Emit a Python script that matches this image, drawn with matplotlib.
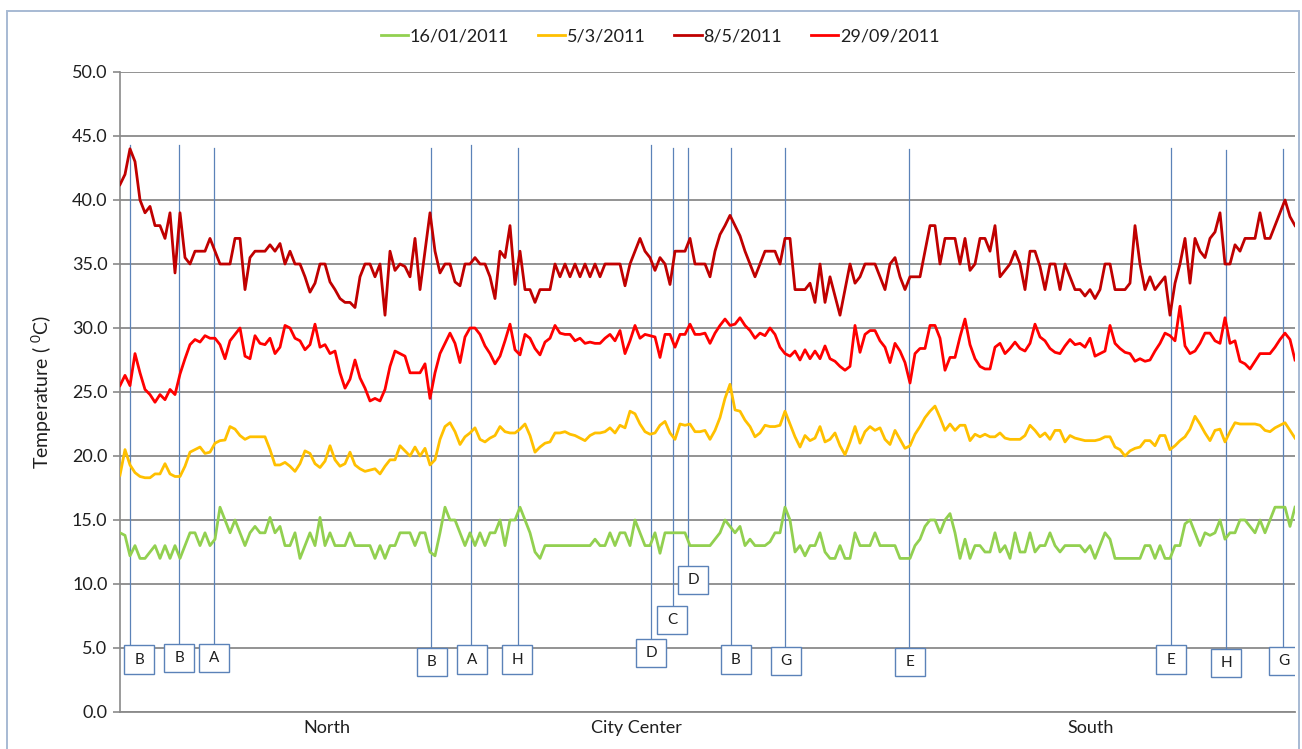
import matplotlib
matplotlib.use("Agg")
import matplotlib.pyplot as plt
from matplotlib.patches import Rectangle
import numpy as np

plt.rcParams['font.family'] = ['Lato', 'DejaVu Sans']

# air temperature along the traverse, one reading per step
temp_jan = [
    14, 13.8, 12.2, 13, 12, 12, 12.5, 13, 12, 13,
    12, 13, 12, 13, 14, 14, 13, 14, 13, 13.5,
    16, 15, 14, 15, 14, 13, 14, 14.5, 14, 14,
    15.2, 14, 14.5, 13, 13, 14, 12, 13, 14, 13,
    15.2, 13, 14, 13, 13, 13, 14, 13, 13, 13,
    13, 12, 13, 12, 13, 13, 14, 14, 14, 13,
    14, 14, 12.5, 12.2, 14, 16, 15, 15, 14, 13,
    14, 13, 14, 13, 14, 14, 15, 13, 15, 15,
    16, 15, 14, 12.5, 12, 13, 13, 13, 13, 13,
    13, 13, 13, 13, 13, 13.5, 13, 13, 14, 13,
    14, 14, 13, 15, 14, 13, 13, 14, 12.4, 14,
    14, 14, 14, 14, 13, 13, 13, 13, 13, 13.5,
    14, 15, 14.5, 14, 14.5, 13, 13.5, 13, 13, 13,
    13.3, 14, 14, 16, 15, 12.5, 13, 12.2, 13, 13,
    14, 12.5, 12, 12, 13, 12, 12, 14, 13, 13,
    13, 14, 13, 13, 13, 13, 12, 12, 12, 13,
    13.5, 14.5, 15, 15, 14, 15, 15.5, 14, 12, 13.5,
    12, 13, 13, 12.5, 12.5, 14, 12.5, 13, 12, 14,
    12.5, 12.5, 14, 12.5, 13, 13, 14, 13, 12.5, 13,
    13, 13, 13, 12.5, 13, 12, 13, 14, 13.5, 12,
    12, 12, 12, 12, 12, 13, 13, 12, 13, 12,
    12, 13, 13, 14.7, 15, 14, 13, 14, 13.8, 14,
    15, 13.5, 14, 14, 15, 15, 14.5, 14, 15, 14,
    15, 16, 16, 16, 14.5, 16,
]

temp_mar = [
    18.5, 20.5, 19.3, 18.7, 18.4, 18.3, 18.3, 18.6, 18.6, 19.4,
    18.6, 18.4, 18.4, 19.2, 20.3, 20.5, 20.7, 20.2, 20.3, 21.0,
    21.2, 21.25, 22.3, 22.1, 21.6, 21.3, 21.5, 21.5, 21.5, 21.5,
    20.5, 19.3, 19.3, 19.5, 19.2, 18.8, 19.4, 20.4, 20.2, 19.4,
    19.1, 19.6, 20.8, 19.7, 19.2, 19.4, 20.3, 19.3, 19, 18.8,
    18.9, 19, 18.6, 19.2, 19.7, 19.7, 20.8, 20.4, 20, 20.7,
    20, 20.6, 19.3, 19.7, 21.3, 22.3, 22.6, 21.9, 20.9, 21.5,
    21.8, 22.2, 21.3, 21.1, 21.4, 21.6, 22.3, 21.9, 21.8, 21.8,
    22.1, 22.5, 21.6, 20.3, 20.7, 21, 21.1, 21.8, 21.8, 21.9,
    21.7, 21.6, 21.4, 21.2, 21.6, 21.8, 21.8, 21.9, 22.2, 21.8,
    22.4, 22.2, 23.5, 23.3, 22.5, 21.9, 21.7, 21.8, 22.4, 22.7,
    21.8, 21.3, 22.5, 22.4, 22.5, 21.9, 21.9, 22, 21.3, 22,
    23, 24.5, 25.6, 23.6, 23.5, 22.8, 22.3, 21.5, 21.8, 22.4,
    22.3, 22.3, 22.4, 23.5, 22.5, 21.5, 20.7, 21.6, 21.2, 21.4,
    22.3, 21.1, 21.3, 21.8, 20.8, 20.1, 21.1, 22.3, 21, 21.9,
    22.3, 22, 22.2, 21.3, 20.9, 22, 21.3, 20.6, 20.8, 21.7,
    22.3, 23, 23.5, 23.9, 23, 22, 22.5, 22, 22.4, 22.4,
    21.2, 21.7, 21.5, 21.7, 21.5, 21.5, 21.8, 21.4, 21.3, 21.3,
    21.3, 21.6, 22.4, 22, 21.5, 21.8, 21.3, 22, 22, 21.1,
    21.6, 21.4, 21.3, 21.2, 21.2, 21.2, 21.3, 21.5, 21.5, 20.7,
    20.5, 20, 20.4, 20.6, 20.7, 21.2, 21.2, 20.8, 21.6, 21.6,
    20.5, 20.8, 21.2, 21.5, 22.1, 23.1, 22.5, 21.8, 21.2, 22,
    22.1, 21.1, 21.9, 22.6, 22.5, 22.5, 22.5, 22.5, 22.4, 22,
    21.9, 22.2, 22.4, 22.6, 22, 21.4,
]

temp_may = [
    41.2, 42, 44, 43, 40, 39, 39.5, 38, 38, 37,
    39, 34.3, 39, 35.5, 35, 36, 36, 36, 37, 36,
    35, 35, 35, 37, 37, 33, 35.5, 36, 36, 36,
    36.5, 36, 36.6, 35, 36, 35, 35, 34, 32.8, 33.5,
    35, 35, 33.6, 33, 32.3, 32, 32, 31.6, 34, 35,
    35, 34, 35, 31, 36, 34.5, 35, 34.8, 34, 37,
    33, 36, 39, 36, 34.3, 35, 35, 33.6, 33.3, 35,
    35, 35.5, 35, 35, 34, 32.3, 36, 35.5, 38, 33.4,
    36, 33, 33, 32, 33, 33, 33, 35, 34, 35,
    34, 35, 34, 35, 34, 35, 34, 35, 35, 35,
    35, 33.3, 35, 36, 37, 36, 35.5, 34.5, 35.5, 35,
    33.4, 36, 36, 36, 37, 35, 35, 35, 34, 36,
    37.3, 38, 38.8, 38, 37.2, 36, 35, 34, 35, 36,
    36, 36, 35, 37, 37, 33, 33, 33, 33.5, 32,
    35, 32, 34, 32.5, 31, 33, 35, 33.5, 34, 35,
    35, 35, 34, 33, 35, 35.5, 34, 33, 34, 34,
    34, 36, 38, 38, 35, 37, 37, 37, 35, 37,
    34.5, 35, 37, 37, 36, 38, 34, 34.5, 35, 36,
    35, 33, 36, 36, 34.8, 33, 35, 35, 33, 35,
    34, 33, 33, 32.5, 33, 32.3, 33, 35, 35, 33,
    33, 33, 33.5, 38, 35, 33, 34, 33, 33.5, 34,
    31, 33.5, 35, 37, 33.5, 37, 36, 35.5, 37, 37.5,
    39, 35, 35, 36.5, 36, 37, 37, 37, 39, 37,
    37, 38, 39, 40, 38.7, 38,
]

temp_sep = [
    25.5, 26.3, 25.5, 28, 26.5, 25.2, 24.8, 24.2, 24.8, 24.4,
    25.2, 24.8, 26.4, 27.6, 28.7, 29.1, 28.9, 29.4, 29.2, 29.2,
    28.7, 27.6, 29, 29.5, 30, 27.8, 27.6, 29.4, 28.8, 28.7,
    29.2, 28, 28.5, 30.2, 30, 29.2, 29, 28.3, 28.7, 30.3,
    28.5, 28.7, 28, 28.2, 26.5, 25.3, 26, 27.5, 26.1, 25.3,
    24.3, 24.5, 24.3, 25.2, 27, 28.2, 28, 27.8, 26.5, 26.5,
    26.5, 27.2, 24.5, 26.5, 28, 28.8, 29.6, 28.8, 27.3, 29.3,
    30, 30, 29.5, 28.6, 28, 27.2, 27.8, 29, 30.3, 28.3,
    27.9, 29.5, 29.2, 28.4, 27.9, 28.9, 29.2, 30.2, 29.6, 29.5,
    29.5, 29, 29.2, 28.8, 28.9, 28.8, 28.8, 29.2, 29.5, 29,
    29.8, 28, 29, 30.2, 29.2, 29.5, 29.4, 29.3, 27.7, 29.5,
    29.5, 28.5, 29.5, 29.5, 30.3, 29.5, 29.5, 29.6, 28.8, 29.6,
    30.2, 30.7, 30.2, 30.3, 30.8, 30.2, 29.8, 29.2, 29.6, 29.4,
    30, 29.5, 28.5, 28, 27.8, 28.2, 27.5, 28.3, 27.6, 28.2,
    27.6, 28.6, 27.6, 27.4, 27, 26.7, 27, 30.2, 28.1, 29.5,
    29.8, 29.8, 29, 28.5, 27.3, 28.8, 28.2, 27.3, 25.7, 28,
    28.4, 28.4, 30.2, 30.2, 29.2, 26.7, 27.7, 27.7, 29.3, 30.7,
    28.7, 27.6, 27, 26.8, 26.8, 28.5, 28.8, 28, 28.4, 28.9,
    28.4, 28.2, 28.8, 30.3, 29.3, 29, 28.4, 28.1, 28, 28.6,
    29.1, 28.7, 28.8, 28.5, 29.2, 27.8, 28, 28.2, 30.2, 28.8,
    28.4, 28.1, 28, 27.4, 27.6, 27.4, 27.5, 28.2, 28.8, 29.6,
    29.4, 29, 31.7, 28.6, 28, 28.2, 28.8, 29.6, 29.6, 29,
    28.8, 30.8, 28.8, 29, 27.4, 27.2, 26.8, 27.4, 28, 28,
    28, 28.5, 29.1, 29.6, 29.1, 27.5,
]

series_dates = ['16/01/2011', '5/3/2011', '8/5/2011', '29/09/2011']
series_colors = ['#92d050', '#ffc000', '#c00000', '#ff0000']

# districts along the route (x in reading index)
region_names = ['North', 'City Center', 'South']
region_pos = [41.4, 103.2, 194.2]

# measurement stations passed on the route
station_names = ['B', 'B', 'A', 'B', 'A', 'H', 'D', 'C', 'D', 'B', 'G', 'E', 'E', 'H', 'G']
station_pos = [2, 11.8, 18.8, 62.2, 70.2, 79.6, 106.2, 110.6, 113.6,
               122.2, 133, 157.8, 210.2, 221.2, 232.6]
box_pos = [3.8, 11.8, 18.8, 62.4, 70.4, 79.4, 106.2, 110.4, 114.6,
           123.2, 133.2, 158, 210.2, 221.2, 232.8]
box_level = [4.1, 4.2, 4.2, 3.9, 4.1, 4.1, 4.6, 7.2, 10.3, 4.1, 4.0, 3.9, 4.1, 3.8, 4.0]
line_top = [44.3, 44.3, 44.1, 44.1, 44.3, 44.1, 44.3, 44.1, 44.1,
            44.1, 44.1, 44.0, 44.1, 43.9, 44.0]

W, H = 1302, 749
fig = plt.figure(figsize=(W / 100, H / 100), dpi=100)
ax = fig.add_axes([120 / W, 1 - 712 / H, 1175 / W, 640 / H])

grid_c = '#8a8a8a'
stn_c = '#5b82b8'
text_c = '#1f1f1f'

x = np.arange(len(temp_jan))
for vals, lab, col in zip([temp_jan, temp_mar, temp_may, temp_sep], series_dates, series_colors):
    ax.plot(x, vals, color=col, lw=2.0, label=lab, zorder=3, solid_joinstyle='round')

# station markers: thin line up from a labelled box
bw, bh = 6.0, 2.2
for name, sp, bp, bl, top in zip(station_names, station_pos, box_pos, box_level, line_top):
    ax.plot([sp, sp], [bl + bh / 2, top], color=stn_c, lw=0.9, zorder=2)
    ax.add_patch(Rectangle((bp - bw / 2, bl - bh / 2), bw, bh, fc='white',
                           ec=stn_c, lw=1.0, zorder=4))
    ax.text(bp, bl, name, ha='center', va='center', fontsize=11, color=text_c, zorder=5)

ax.set_xlim(0, len(temp_jan) - 1)
ax.set_ylim(0, 50)
ax.set_yticks(np.arange(0, 51, 5))
ax.set_yticklabels([f'{v:.1f}' for v in np.arange(0, 51, 5)], fontsize=13)
ax.yaxis.grid(True, color=grid_c, lw=1.3)
ax.set_axisbelow(True)
ax.tick_params(axis='y', length=5, width=1.2, color=grid_c, pad=4, labelcolor=text_c)

ax.set_xticks(region_pos)
ax.set_xticklabels(region_names, fontsize=13, color=text_c)
ax.tick_params(axis='x', length=0, pad=6)

for side in ['top', 'right']:
    ax.spines[side].set_visible(False)
ax.spines['left'].set_color(grid_c)
ax.spines['left'].set_linewidth(1.2)
ax.spines['bottom'].set_color(grid_c)
ax.spines['bottom'].set_linewidth(1.3)

ax.set_ylabel('Temperature ( $^{\\mathregular{0}}$C)', fontsize=14, color=text_c)
ax.yaxis.set_label_coords(-0.056, 0.5)

leg = fig.legend(loc='center', bbox_to_anchor=(660 / W, 1 - 36 / H), ncol=4, frameon=False,
                 fontsize=13, handlelength=1.5, handletextpad=0.1, columnspacing=1.6)
for t in leg.get_texts():
    t.set_color(text_c)

# chart area frame
fig.add_artist(Rectangle((7 / W, -0.01), 1292 / W, 1 - 11 / H + 0.01, transform=fig.transFigure,
                         fill=False, ec='#a7bad3', lw=1.4))

fig.savefig('out.png', dpi=100)
